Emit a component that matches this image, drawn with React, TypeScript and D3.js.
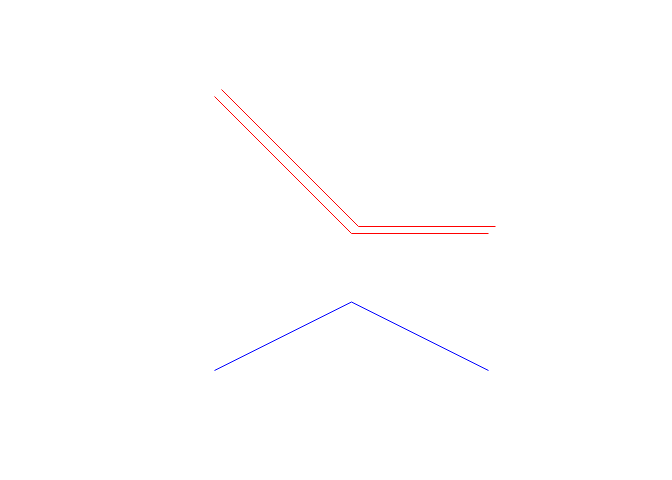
import React, { useEffect, useRef } from 'react';
import * as d3 from 'd3';

// x positions shared by every series
const xs = [1, 2, 3];
// red series and its offset copy
const redValues = [3, 1, 1];
// blue series
const blueValues = [-1, 0, -1];

const App = () => {
  const ref = useRef<SVGSVGElement>(null);
  const width = 672;
  const height = 480;

  useEffect(() => {
    const svg = d3.select(ref.current);
    svg.selectAll('*').remove();

    // data -> pixel mapping
    const x = d3.scaleLinear().domain([1, 3]).range([214.5, 488.5]);
    const y = d3.scaleLinear().domain([-1, 3]).range([370.5, 96.5]);

    const line = d3.line<number>()
      .x((d, i) => x(xs[i]))
      .y(d => y(d));

    // offset copy of the red line (shadow-like duplicate)
    svg.append('path')
      .datum(redValues)
      .attr('transform', 'translate(7,-7)')
      .attr('fill', 'none')
      .attr('stroke', '#ff0000')
      .attr('stroke-width', 1)
      .attr('d', line);

    svg.append('path')
      .datum(redValues)
      .attr('fill', 'none')
      .attr('stroke', '#ff0000')
      .attr('stroke-width', 1)
      .attr('d', line);

    svg.append('path')
      .datum(blueValues)
      .attr('fill', 'none')
      .attr('stroke', '#0000ff')
      .attr('stroke-width', 1)
      .attr('d', line);
  }, []);

  return (
    <svg
      ref={ref}
      width={width}
      height={height}
      style={{ position: 'absolute', left: 0, top: 0, background: '#fff' }}
    />
  );
};

export default App;
